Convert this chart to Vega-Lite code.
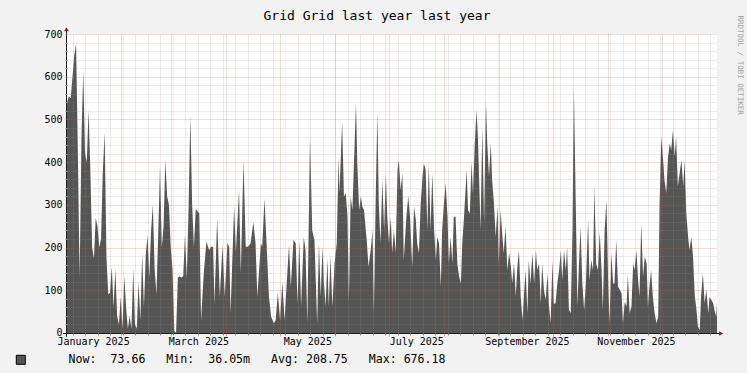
{
  "$schema": "https://vega.github.io/schema/vega-lite/v6.json",
  "width": 650,
  "height": 299,
  "autosize": {"type": "none"},
  "padding": {"left": 67, "top": 34, "right": 30, "bottom": 40},
  "background": "#F2F2F2",
  "title": {"text": "Grid Grid last year last year", "font": "DejaVu Sans Mono", "fontSize": 13, "fontWeight": "normal", "color": "#000000", "anchor": "middle", "frame": "group", "dx": -15, "offset": 0, "dy": 17.5, "baseline": "alphabetic"},
  "config": {
    "view": {"stroke": null, "fill": "#FFFFFF"},
    "axis": {"labelFont": "DejaVu Sans Mono", "labelFontSize": 10, "labelColor": "#000000", "titleFont": "DejaVu Sans Mono"}
  },
  "datasets": {
    "load": [
      {"t":"2025-01-01T22:00","v":540},{"t":"2025-01-02T00:00","v":540},{"t":"2025-01-03T00:00","v":555},{"t":"2025-01-04T00:00","v":549},{"t":"2025-01-05T00:00","v":600},{"t":"2025-01-06T00:00","v":650},{"t":"2025-01-07T00:00","v":676.18},{"t":"2025-01-08T00:00","v":420},{"t":"2025-01-09T00:00","v":130},{"t":"2025-01-10T00:00","v":450},{"t":"2025-01-11T00:00","v":615},{"t":"2025-01-12T00:00","v":420},{"t":"2025-01-13T00:00","v":400},{"t":"2025-01-14T00:00","v":522},{"t":"2025-01-15T00:00","v":380},{"t":"2025-01-16T00:00","v":200},{"t":"2025-01-17T00:00","v":175},{"t":"2025-01-18T00:00","v":270},{"t":"2025-01-19T00:00","v":250},{"t":"2025-01-20T00:00","v":200},{"t":"2025-01-21T00:00","v":220},{"t":"2025-01-22T00:00","v":380},{"t":"2025-01-23T00:00","v":470},{"t":"2025-01-24T00:00","v":180},{"t":"2025-01-25T00:00","v":90},{"t":"2025-01-26T00:00","v":95},{"t":"2025-01-27T00:00","v":155},{"t":"2025-01-28T00:00","v":60},{"t":"2025-01-29T00:00","v":150},{"t":"2025-01-30T00:00","v":40},{"t":"2025-01-31T00:00","v":20},
      {"t":"2025-02-01T00:00","v":85},{"t":"2025-02-02T00:00","v":10},{"t":"2025-02-03T00:00","v":135},{"t":"2025-02-04T00:00","v":60},{"t":"2025-02-05T00:00","v":10},{"t":"2025-02-06T00:00","v":40},{"t":"2025-02-07T00:00","v":10},{"t":"2025-02-08T00:00","v":150},{"t":"2025-02-09T00:00","v":20},{"t":"2025-02-10T00:00","v":10},{"t":"2025-02-11T00:00","v":120},{"t":"2025-02-12T00:00","v":30},{"t":"2025-02-13T00:00","v":185},{"t":"2025-02-14T00:00","v":60},{"t":"2025-02-15T00:00","v":180},{"t":"2025-02-16T00:00","v":230},{"t":"2025-02-17T00:00","v":130},{"t":"2025-02-18T00:00","v":240},{"t":"2025-02-19T00:00","v":300},{"t":"2025-02-20T00:00","v":150},{"t":"2025-02-21T00:00","v":90},{"t":"2025-02-22T00:00","v":230},{"t":"2025-02-23T00:00","v":390},{"t":"2025-02-24T00:00","v":200},{"t":"2025-02-25T00:00","v":250},{"t":"2025-02-26T00:00","v":405},{"t":"2025-02-27T00:00","v":320},{"t":"2025-02-28T00:00","v":300},
      {"t":"2025-03-01T00:00","v":200},{"t":"2025-03-02T00:00","v":150},{"t":"2025-03-03T00:00","v":5},{"t":"2025-03-04T00:00","v":0.036},{"t":"2025-03-05T00:00","v":130},{"t":"2025-03-06T00:00","v":132},{"t":"2025-03-07T00:00","v":130},{"t":"2025-03-08T00:00","v":133},{"t":"2025-03-09T00:00","v":230},{"t":"2025-03-10T00:00","v":130},{"t":"2025-03-11T00:00","v":290},{"t":"2025-03-12T00:00","v":510},{"t":"2025-03-13T00:00","v":300},{"t":"2025-03-14T00:00","v":200},{"t":"2025-03-15T00:00","v":290},{"t":"2025-03-16T00:00","v":285},{"t":"2025-03-17T00:00","v":280},{"t":"2025-03-18T00:00","v":30},{"t":"2025-03-19T12:00","v":140},{"t":"2025-03-21T00:00","v":214},{"t":"2025-03-22T12:00","v":194},{"t":"2025-03-23T12:00","v":202},{"t":"2025-03-24T18:00","v":202},{"t":"2025-03-25T12:00","v":69},{"t":"2025-03-27T00:00","v":268},{"t":"2025-03-28T12:00","v":85},{"t":"2025-03-30T00:00","v":206},{"t":"2025-03-31T06:00","v":85},
      {"t":"2025-04-01T18:00","v":210},{"t":"2025-04-02T18:00","v":202},{"t":"2025-04-03T12:00","v":46},{"t":"2025-04-05T12:00","v":296},{"t":"2025-04-06T12:00","v":190},{"t":"2025-04-08T06:00","v":335},{"t":"2025-04-09T06:00","v":140},{"t":"2025-04-10T18:00","v":405},{"t":"2025-04-12T00:00","v":202},{"t":"2025-04-13T06:00","v":202},{"t":"2025-04-14T18:00","v":210},{"t":"2025-04-16T06:00","v":260},{"t":"2025-04-17T12:00","v":210},{"t":"2025-04-18T12:00","v":85},{"t":"2025-04-20T12:00","v":210},{"t":"2025-04-21T06:00","v":202},{"t":"2025-04-22T12:00","v":315},{"t":"2025-04-23T18:00","v":202},{"t":"2025-04-25T00:00","v":85},{"t":"2025-04-26T06:00","v":38},{"t":"2025-04-27T18:00","v":23},{"t":"2025-04-28T18:00","v":30},{"t":"2025-04-30T00:00","v":93},
      {"t":"2025-05-01T06:00","v":30},{"t":"2025-05-02T12:00","v":120},{"t":"2025-05-03T18:00","v":30},{"t":"2025-05-05T00:00","v":120},{"t":"2025-05-06T06:00","v":206},{"t":"2025-05-07T06:00","v":108},{"t":"2025-05-08T18:00","v":218},{"t":"2025-05-10T00:00","v":210},{"t":"2025-05-11T00:00","v":69},{"t":"2025-05-12T00:00","v":218},{"t":"2025-05-13T00:00","v":62},{"t":"2025-05-14T12:00","v":225},{"t":"2025-05-15T12:00","v":194},{"t":"2025-05-16T12:00","v":23},{"t":"2025-05-18T00:00","v":460},{"t":"2025-05-19T06:00","v":240},{"t":"2025-05-20T12:00","v":218},{"t":"2025-05-22T00:00","v":23},{"t":"2025-05-23T00:00","v":210},{"t":"2025-05-24T00:00","v":85},{"t":"2025-05-25T00:00","v":202},{"t":"2025-05-25T18:00","v":120},{"t":"2025-05-26T18:00","v":62},{"t":"2025-05-27T18:00","v":175},{"t":"2025-05-28T12:00","v":62},{"t":"2025-05-29T12:00","v":179},{"t":"2025-05-30T12:00","v":62},{"t":"2025-05-31T18:00","v":163},
      {"t":"2025-06-02T00:00","v":210},{"t":"2025-06-03T00:00","v":413},{"t":"2025-06-03T12:00","v":327},{"t":"2025-06-05T00:00","v":495},{"t":"2025-06-06T00:00","v":320},{"t":"2025-06-07T00:00","v":327},{"t":"2025-06-08T00:00","v":272},{"t":"2025-06-08T18:00","v":69},{"t":"2025-06-09T18:00","v":320},{"t":"2025-06-10T18:00","v":288},{"t":"2025-06-11T12:00","v":382},{"t":"2025-06-12T18:00","v":538},{"t":"2025-06-13T12:00","v":397},{"t":"2025-06-14T12:00","v":288},{"t":"2025-06-15T12:00","v":320},{"t":"2025-06-16T06:00","v":296},{"t":"2025-06-17T06:00","v":288},{"t":"2025-06-18T18:00","v":218},{"t":"2025-06-19T18:00","v":155},{"t":"2025-06-21T00:00","v":194},{"t":"2025-06-22T00:00","v":241},{"t":"2025-06-22T18:00","v":46},{"t":"2025-06-23T18:00","v":304},{"t":"2025-06-24T18:00","v":518},{"t":"2025-06-25T12:00","v":304},{"t":"2025-06-26T12:00","v":210},{"t":"2025-06-27T12:00","v":358},{"t":"2025-06-28T12:00","v":241},{"t":"2025-06-29T12:00","v":374},{"t":"2025-06-30T06:00","v":272},
      {"t":"2025-07-01T06:00","v":210},{"t":"2025-07-02T06:00","v":272},{"t":"2025-07-03T00:00","v":187},{"t":"2025-07-04T00:00","v":241},{"t":"2025-07-05T00:00","v":187},{"t":"2025-07-06T00:00","v":382},{"t":"2025-07-06T18:00","v":405},{"t":"2025-07-07T18:00","v":335},{"t":"2025-07-08T18:00","v":374},{"t":"2025-07-09T12:00","v":171},{"t":"2025-07-11T00:00","v":272},{"t":"2025-07-12T00:00","v":320},{"t":"2025-07-13T00:00","v":272},{"t":"2025-07-14T06:00","v":155},{"t":"2025-07-15T06:00","v":296},{"t":"2025-07-16T06:00","v":265},{"t":"2025-07-17T00:00","v":210},{"t":"2025-07-18T00:00","v":187},{"t":"2025-07-19T00:00","v":304},{"t":"2025-07-20T00:00","v":366},{"t":"2025-07-20T18:00","v":397},{"t":"2025-07-21T18:00","v":382},{"t":"2025-07-22T18:00","v":241},{"t":"2025-07-23T12:00","v":397},{"t":"2025-07-24T12:00","v":241},{"t":"2025-07-25T12:00","v":374},{"t":"2025-07-26T12:00","v":241},{"t":"2025-07-27T12:00","v":171},{"t":"2025-07-28T06:00","v":225},{"t":"2025-07-29T06:00","v":210},{"t":"2025-07-30T06:00","v":108},{"t":"2025-07-31T00:00","v":241},
      {"t":"2025-08-01T00:00","v":304},{"t":"2025-08-02T00:00","v":350},{"t":"2025-08-03T00:00","v":272},{"t":"2025-08-03T18:00","v":163},{"t":"2025-08-04T18:00","v":225},{"t":"2025-08-05T18:00","v":163},{"t":"2025-08-06T12:00","v":272},{"t":"2025-08-07T12:00","v":272},{"t":"2025-08-08T12:00","v":163},{"t":"2025-08-09T12:00","v":132},{"t":"2025-08-10T12:00","v":116},{"t":"2025-08-11T06:00","v":210},{"t":"2025-08-12T06:00","v":272},{"t":"2025-08-13T18:00","v":382},{"t":"2025-08-14T12:00","v":288},{"t":"2025-08-15T12:00","v":280},{"t":"2025-08-16T12:00","v":401},{"t":"2025-08-17T06:00","v":327},{"t":"2025-08-18T06:00","v":440},{"t":"2025-08-19T06:00","v":522},{"t":"2025-08-20T00:00","v":460},{"t":"2025-08-20T12:00","v":390},{"t":"2025-08-21T12:00","v":241},{"t":"2025-08-22T12:00","v":483},{"t":"2025-08-23T12:00","v":257},{"t":"2025-08-24T12:00","v":545},{"t":"2025-08-25T06:00","v":444},{"t":"2025-08-26T06:00","v":366},{"t":"2025-08-27T06:00","v":444},{"t":"2025-08-28T00:00","v":358},{"t":"2025-08-29T00:00","v":304},{"t":"2025-08-30T00:00","v":225},{"t":"2025-08-31T00:00","v":296},{"t":"2025-08-31T18:00","v":163},
      {"t":"2025-09-01T18:00","v":288},{"t":"2025-09-02T18:00","v":225},{"t":"2025-09-03T12:00","v":187},{"t":"2025-09-04T12:00","v":249},{"t":"2025-09-05T12:00","v":147},{"t":"2025-09-06T12:00","v":187},{"t":"2025-09-07T12:00","v":155},{"t":"2025-09-08T06:00","v":116},{"t":"2025-09-09T06:00","v":163},{"t":"2025-09-10T06:00","v":85},{"t":"2025-09-11T00:00","v":147},{"t":"2025-09-12T00:00","v":194},{"t":"2025-09-13T00:00","v":85},{"t":"2025-09-14T00:00","v":30},{"t":"2025-09-14T18:00","v":85},{"t":"2025-09-15T18:00","v":147},{"t":"2025-09-16T18:00","v":46},{"t":"2025-09-17T12:00","v":171},{"t":"2025-09-18T12:00","v":116},{"t":"2025-09-19T12:00","v":187},{"t":"2025-09-20T12:00","v":116},{"t":"2025-09-21T12:00","v":194},{"t":"2025-09-22T06:00","v":147},{"t":"2025-09-23T06:00","v":163},{"t":"2025-09-24T06:00","v":69},{"t":"2025-09-25T00:00","v":163},{"t":"2025-09-26T00:00","v":101},{"t":"2025-09-27T00:00","v":77},{"t":"2025-09-28T00:00","v":140},{"t":"2025-09-28T18:00","v":69},{"t":"2025-09-29T18:00","v":23},{"t":"2025-09-30T18:00","v":171},
      {"t":"2025-10-01T12:00","v":69},{"t":"2025-10-02T12:00","v":69},{"t":"2025-10-03T12:00","v":116},{"t":"2025-10-04T12:00","v":147},{"t":"2025-10-05T12:00","v":194},{"t":"2025-10-06T06:00","v":124},{"t":"2025-10-07T06:00","v":194},{"t":"2025-10-08T06:00","v":147},{"t":"2025-10-09T00:00","v":202},{"t":"2025-10-10T00:00","v":54},{"t":"2025-10-11T00:00","v":46},{"t":"2025-10-12T00:00","v":241},{"t":"2025-10-12T18:00","v":577},{"t":"2025-10-13T18:00","v":319},{"t":"2025-10-14T18:00","v":62},{"t":"2025-10-15T12:00","v":147},{"t":"2025-10-16T12:00","v":249},{"t":"2025-10-17T12:00","v":116},{"t":"2025-10-18T12:00","v":54},{"t":"2025-10-19T12:00","v":116},{"t":"2025-10-20T18:00","v":265},{"t":"2025-10-21T12:00","v":124},{"t":"2025-10-22T12:00","v":171},{"t":"2025-10-23T12:00","v":147},{"t":"2025-10-24T06:00","v":343},{"t":"2025-10-25T06:00","v":163},{"t":"2025-10-26T06:00","v":147},{"t":"2025-10-27T06:00","v":237},{"t":"2025-10-28T06:00","v":147},{"t":"2025-10-29T00:00","v":54},{"t":"2025-10-30T00:00","v":241},{"t":"2025-10-31T00:00","v":311},
      {"t":"2025-11-01T00:00","v":116},{"t":"2025-11-01T18:00","v":23},{"t":"2025-11-02T18:00","v":187},{"t":"2025-11-03T18:00","v":116},{"t":"2025-11-04T12:00","v":116},{"t":"2025-11-05T12:00","v":218},{"t":"2025-11-06T12:00","v":108},{"t":"2025-11-07T12:00","v":101},{"t":"2025-11-08T12:00","v":93},{"t":"2025-11-09T06:00","v":23},{"t":"2025-11-10T06:00","v":73},{"t":"2025-11-11T06:00","v":62},{"t":"2025-11-12T00:00","v":136},{"t":"2025-11-13T00:00","v":46},{"t":"2025-11-14T00:00","v":62},{"t":"2025-11-15T00:00","v":163},{"t":"2025-11-15T18:00","v":147},{"t":"2025-11-16T18:00","v":194},{"t":"2025-11-17T18:00","v":124},{"t":"2025-11-18T12:00","v":85},{"t":"2025-11-19T12:00","v":257},{"t":"2025-11-20T12:00","v":132},{"t":"2025-11-21T12:00","v":179},{"t":"2025-11-22T12:00","v":163},{"t":"2025-11-23T06:00","v":62},{"t":"2025-11-24T06:00","v":116},{"t":"2025-11-25T00:00","v":147},{"t":"2025-11-26T00:00","v":85},{"t":"2025-11-27T00:00","v":46},{"t":"2025-11-28T00:00","v":23},{"t":"2025-11-29T00:00","v":38},{"t":"2025-11-29T18:00","v":304},{"t":"2025-11-30T18:00","v":460},
      {"t":"2025-12-01T18:00","v":405},{"t":"2025-12-02T12:00","v":358},{"t":"2025-12-03T12:00","v":327},{"t":"2025-12-04T12:00","v":413},{"t":"2025-12-05T12:00","v":444},{"t":"2025-12-06T06:00","v":428},{"t":"2025-12-07T06:00","v":475},{"t":"2025-12-08T06:00","v":413},{"t":"2025-12-09T00:00","v":460},{"t":"2025-12-10T00:00","v":343},{"t":"2025-12-11T00:00","v":374},{"t":"2025-12-12T00:00","v":405},{"t":"2025-12-13T00:00","v":343},{"t":"2025-12-13T18:00","v":405},{"t":"2025-12-14T18:00","v":280},{"t":"2025-12-15T18:00","v":225},{"t":"2025-12-16T12:00","v":194},{"t":"2025-12-17T12:00","v":225},{"t":"2025-12-18T12:00","v":179},{"t":"2025-12-19T12:00","v":85},{"t":"2025-12-20T06:00","v":62},{"t":"2025-12-21T06:00","v":15},{"t":"2025-12-22T06:00","v":7},{"t":"2025-12-23T00:00","v":85},{"t":"2025-12-24T00:00","v":140},{"t":"2025-12-25T00:00","v":70},{"t":"2025-12-26T00:00","v":101},{"t":"2025-12-27T00:00","v":46},{"t":"2025-12-27T18:00","v":85},{"t":"2025-12-28T18:00","v":77},{"t":"2025-12-29T18:00","v":70},{"t":"2025-12-30T12:00","v":54},{"t":"2025-12-31T12:00","v":38},{"t":"2025-12-31T22:00","v":73.66}
    ]
  },
  "layer": [
    {
      "data": {"name": "load"},
      "mark": {"type": "area", "interpolate": "linear", "opacity": 1},
      "encoding": {
        "x": {"field": "t", "type": "temporal",
              "scale": {"domain": [{"year":2025,"month":1,"date":1,"hours":22},{"year":2025,"month":12,"date":31,"hours":22}]},
              "axis": {"orient": "bottom", "tickCount": {"interval": "week", "step": 1}, "grid": true, "gridColor": "#8F8F8F", "gridOpacity": 0.35, "gridDash": [1,1], "labels": false, "ticks": true, "tickSize": 2, "tickColor": "#8F8F8F", "domain": false, "title": null, "zindex": 1}},
        "y": {"field": "v", "type": "quantitative",
              "scale": {"domain": [0,700], "nice": false},
              "axis": {"orient": "left", "values": [20,40,60,80,120,140,160,180,220,240,260,280,320,340,360,380,420,440,460,480,520,540,560,580,620,640,660,680], "grid": true, "gridColor": "#8F8F8F", "gridOpacity": 0.35, "gridDash": [1,1], "labels": false, "ticks": true, "tickSize": 2, "tickColor": "#8F8F8F", "domain": false, "title": null, "zindex": 1}},
        "color": {"datum": "Now:\u00a0\u00a073.66\u00a0\u00a0\u00a0Min:\u00a0\u00a036.05m\u00a0\u00a0\u00a0Avg:\u00a0208.75\u00a0\u00a0\u00a0Max:\u00a0676.18",
                  "scale": {"range": ["#555555"]},
                  "legend": {"orient": "none", "legendX": -52, "legendY": 320, "title": null, "symbolType": "square", "symbolSize": 81, "symbolStrokeColor": "#000000", "symbolStrokeWidth": 1, "symbolOpacity": 1, "labelFont": "DejaVu Sans Mono", "labelFontSize": 11.6, "labelColor": "#000000", "labelOffset": 42, "labelLimit": 700}}
      }
    },
    {
      "data": {"values": []},
      "mark": {"type": "point"},
      "encoding": {
        "x": {"field": "t", "type": "temporal",
              "scale": {"domain": [{"year":2025,"month":1,"date":1,"hours":22},{"year":2025,"month":12,"date":31,"hours":22}]},
              "axis": {"orient": "bottom", "tickCount": {"interval": "month", "step": 1}, "grid": true, "gridColor": "#DE4F4F", "gridOpacity": 0.42, "gridDash": [1,1], "labels": false, "ticks": true, "tickSize": 3, "tickColor": "#DE4F4F", "tickOpacity": 0.5, "domain": false, "title": null, "zindex": 1}},
        "y": {"field": "v", "type": "quantitative",
              "scale": {"domain": [0,700], "nice": false},
              "axis": {"orient": "left", "values": [100,200,300,400,500,600,700], "grid": true, "gridColor": "#DE4F4F", "gridOpacity": 0.42, "gridDash": [1,1], "labels": true, "labelPadding": 3, "ticks": true, "tickSize": 2, "tickColor": "#DE4F4F", "tickOpacity": 0.5, "domain": false, "title": null, "zindex": 1}}
      }
    },
    {
      "data": {"values": []},
      "mark": {"type": "point"},
      "encoding": {
        "x": {"field": "t", "type": "temporal",
              "scale": {"domain": [{"year":2025,"month":1,"date":1,"hours":22},{"year":2025,"month":12,"date":31,"hours":22}]},
              "axis": {"orient": "bottom", "values": [{"year":2025,"month":1,"date":16,"hours":12},{"year":2025,"month":3,"date":16,"hours":12},{"year":2025,"month":5,"date":16,"hours":12},{"year":2025,"month":7,"date":16,"hours":12},{"year":2025,"month":9,"date":16,"hours":12},{"year":2025,"month":11,"date":16,"hours":12}], "format": "%B %Y", "grid": false, "labels": true, "labelPadding": 3, "labelFlush": false, "labelOverlap": false, "ticks": false, "domain": false, "title": null}},
        "y": {"field": "v", "type": "quantitative",
              "scale": {"domain": [0,700], "nice": false},
              "axis": {"orient": "left", "values": [0], "grid": false, "labels": true, "labelPadding": 5, "labelBaseline": "alphabetic", "labelOffset": 2, "ticks": false, "domain": false, "title": null}}
      }
    },
    {
      "data": {"values": []},
      "mark": {"type": "point"},
      "encoding": {
        "y": {"field": "v", "type": "quantitative",
              "scale": {"domain": [0,700], "nice": false},
              "axis": {"orient": "right", "labels": false, "ticks": false, "domain": false, "grid": false, "title": "RRDTOOL / TOBI OETIKER", "titleFont": "DejaVu Sans Mono", "titleFontSize": 7.5, "titleFontWeight": "normal", "titleColor": "#A0A0A0", "titleAngle": 90, "titleAlign": "left", "titleBaseline": "middle", "titleX": 22, "titleY": -19}}
      }
    },
    {
      "data": {"values": [{}]},
      "mark": {"type": "rule", "color": "#1F1F1F", "strokeWidth": 1, "yOffset": 0.5},
      "encoding": {
        "x": {"datum": {"year":2024,"month":12,"date":30,"hours":16}, "type": "temporal", "axis": null, "scale": {"domain": [{"year":2025,"month":1,"date":1,"hours":22},{"year":2025,"month":12,"date":31,"hours":22}]}},
        "x2": {"datum": {"year":2026,"month":1,"date":2,"hours":18}},
        "y": {"datum": 0, "type": "quantitative", "axis": null, "scale": {"domain": [0,700], "nice": false}}
      }
    },
    {
      "data": {"values": [{}]},
      "mark": {"type": "rule", "color": "#1F1F1F", "strokeWidth": 1, "xOffset": -0.5},
      "encoding": {
        "x": {"datum": {"year":2025,"month":1,"date":1,"hours":22}, "type": "temporal", "axis": null, "scale": {"domain": [{"year":2025,"month":1,"date":1,"hours":22},{"year":2025,"month":12,"date":31,"hours":22}]}},
        "y": {"datum": -9, "type": "quantitative", "axis": null, "scale": {"domain": [0,700], "nice": false}},
        "y2": {"datum": 708}
      }
    },
    {
      "data": {"values": [{}]},
      "mark": {"type": "point", "shape": "triangle-up", "filled": true, "color": "#801F1F", "opacity": 1, "size": 22, "xOffset": -0.5},
      "encoding": {
        "x": {"datum": {"year":2025,"month":1,"date":1,"hours":22}, "type": "temporal", "axis": null, "scale": {"domain": [{"year":2025,"month":1,"date":1,"hours":22},{"year":2025,"month":12,"date":31,"hours":22}]}},
        "y": {"datum": 711, "type": "quantitative", "axis": null, "scale": {"domain": [0,700], "nice": false}}
      }
    },
    {
      "data": {"values": [{}]},
      "mark": {"type": "point", "shape": "triangle-right", "filled": true, "color": "#801F1F", "opacity": 1, "size": 22, "yOffset": 0.5},
      "encoding": {
        "x": {"datum": {"year":2026,"month":1,"date":3,"hours":6}, "type": "temporal", "axis": null, "scale": {"domain": [{"year":2025,"month":1,"date":1,"hours":22},{"year":2025,"month":12,"date":31,"hours":22}]}},
        "y": {"datum": 0, "type": "quantitative", "axis": null, "scale": {"domain": [0,700], "nice": false}}
      }
    }
  ],
  "resolve": {"axis": {"x": "independent", "y": "independent"}}
}
